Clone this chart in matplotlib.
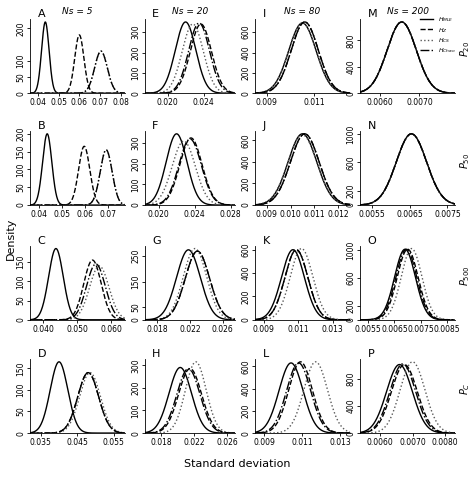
import numpy as np
import matplotlib.pyplot as plt

# estimators: MLE, Hz, Hcs, Hchao
labels = [r'$H_{MLE}$', r'$H_{Z}$', r'$H_{CS}$', r'$H_{Chao}$']
styles = ['-', '--', ':', '-.']
panel_names = ['A', 'E', 'I', 'M', 'B', 'F', 'J', 'N', 'C', 'G', 'K', 'O', 'D', 'H', 'L', 'P']
col_titles = ['Ns = 5', 'Ns = 20', 'Ns = 80', 'Ns = 200']
row_labels = [r'$P_{20}$', r'$P_{50}$', r'$P_{500}$', r'$P_{C}$']

# peak position and peak height of each density curve
peak_x = [
    [0.0435, 0.0600, 0.0705, 0.0705], [0.0220, 0.0237, 0.0228, 0.0235],
    [0.0105, 0.0106, 0.0105, 0.0106], [0.00655, 0.00655, 0.00655, 0.00655],
    [0.0435, 0.0595, 0.0690, 0.0690], [0.0220, 0.0236, 0.0228, 0.0235],
    [0.0105, 0.0106, 0.0105, 0.0106], [0.00655, 0.00655, 0.00655, 0.00655],
    [0.0437, 0.0545, 0.0565, 0.0555], [0.0218, 0.0229, 0.0226, 0.0229],
    [0.0107, 0.0109, 0.0112, 0.0109], [0.0069, 0.0070, 0.00715, 0.00695],
    [0.0400, 0.0480, 0.0485, 0.0480], [0.0203, 0.0215, 0.0222, 0.0213],
    [0.0104, 0.0109, 0.0117, 0.0108], [0.0066, 0.00675, 0.0070, 0.0067],
]
peak_y = [
    [220, 180, 130, 130], [350, 340, 340, 345], [690, 700, 690, 700], [1080, 1080, 1080, 1080],
    [200, 165, 155, 155], [345, 325, 310, 320], [660, 660, 650, 660], [1000, 1000, 1000, 1000],
    [185, 155, 140, 145], [275, 270, 280, 270], [600, 600, 610, 600], [1010, 1010, 1020, 1010],
    [165, 140, 140, 140], [290, 285, 315, 285], [630, 640, 640, 630], [1010, 1010, 1050, 1020],
]
xlims = [(0.036, 0.082), (0.0175, 0.0275), (0.0085, 0.0125), (0.0055, 0.0079),
         (0.036, 0.077), (0.0185, 0.0285), (0.0085, 0.0125), (0.0052, 0.0077),
         (0.036, 0.064), (0.0165, 0.0275), (0.0085, 0.014), (0.0052, 0.0088),
         (0.032, 0.058), (0.016, 0.027), (0.0085, 0.0135), (0.0054, 0.0083)]
xticks = [[0.04, 0.05, 0.06, 0.07, 0.08], [0.020, 0.024], [0.009, 0.011], [0.0060, 0.0070],
          [0.04, 0.05, 0.06, 0.07], [0.020, 0.024, 0.028], [0.009, 0.010, 0.011, 0.012], [0.0055, 0.0065, 0.0075],
          [0.040, 0.050, 0.060], [0.018, 0.022, 0.026], [0.009, 0.011, 0.013], [0.0055, 0.0065, 0.0075, 0.0085],
          [0.035, 0.045, 0.055], [0.018, 0.022, 0.026], [0.009, 0.011, 0.013], [0.0060, 0.0070, 0.0080]]
xfmt = ['%.2f', '%.3f', '%.3f', '%.4f', '%.2f', '%.3f', '%.3f', '%.4f',
        '%.3f', '%.3f', '%.3f', '%.4f', '%.3f', '%.3f', '%.3f', '%.4f']
yticks = [[0, 50, 100, 200], [0, 100, 200, 300], [0, 200, 400, 600], [0, 400, 800],
          [0, 50, 100, 150, 200], [0, 100, 200, 300], [0, 200, 400, 600], [0, 200, 600, 1000],
          [0, 50, 100, 150], [0, 50, 150, 250], [0, 200, 400, 600], [0, 200, 600, 1000],
          [0, 50, 100, 150], [0, 100, 200, 300], [0, 200, 400, 600], [0, 400, 800]]

fig = plt.figure(figsize=(4.74, 4.78), dpi=100)
lefts = [0.063, 0.306, 0.538, 0.760]
widths = [0.20, 0.19, 0.20, 0.20]
bottoms = [0.805, 0.571, 0.331, 0.094]
h = 0.155

for i in range(16):
    r, c = divmod(i, 4)
    ax = fig.add_axes([lefts[c], bottoms[r], widths[c], h])
    x = np.linspace(xlims[i][0], xlims[i][1], 400)
    for k in range(4):
        sd = 0.3989 / peak_y[i][k]
        y = peak_y[i][k] * np.exp(-0.5 * ((x - peak_x[i][k]) / sd) ** 2)
        ax.plot(x, y, ls=styles[k], color='black' if k != 2 else '0.35', lw=1.0, label=labels[k])
    ax.set_xlim(xlims[i])
    ax.set_ylim(0, max(peak_y[i]) * 1.04)
    ax.set_xticks(xticks[i])
    ax.set_xticklabels([xfmt[i] % t for t in xticks[i]], fontsize=5.5)
    ax.set_yticks(yticks[i])
    ax.set_yticklabels([str(t) for t in yticks[i]], fontsize=5.5, rotation=90, va='center')
    ax.tick_params(length=2, pad=1.5, width=0.6)
    for s in ['top', 'right']:
        ax.spines[s].set_visible(False)
    for s in ['left', 'bottom']:
        ax.spines[s].set_linewidth(0.6)
    ax.text(0.08, 1.0, panel_names[i], transform=ax.transAxes, fontsize=8, va='bottom')
    if r == 0:
        ax.set_title(col_titles[c], fontsize=6.5, style='italic', pad=4)
    if c == 3:
        ax.text(1.03, 0.6, row_labels[r], transform=ax.transAxes, fontsize=7, rotation=90, va='center')
    if i == 3:
        ax.legend(loc='upper right', fontsize=4.5, frameon=False, handlelength=2.2,
                  borderpad=0.1, labelspacing=0.2, bbox_to_anchor=(1.05, 1.1))

fig.text(0.012, 0.5, 'Density', rotation=90, fontsize=8, va='center')
fig.text(0.5, 0.022, 'Standard deviation', fontsize=8, ha='center')
fig.savefig('out.png', dpi=100)
